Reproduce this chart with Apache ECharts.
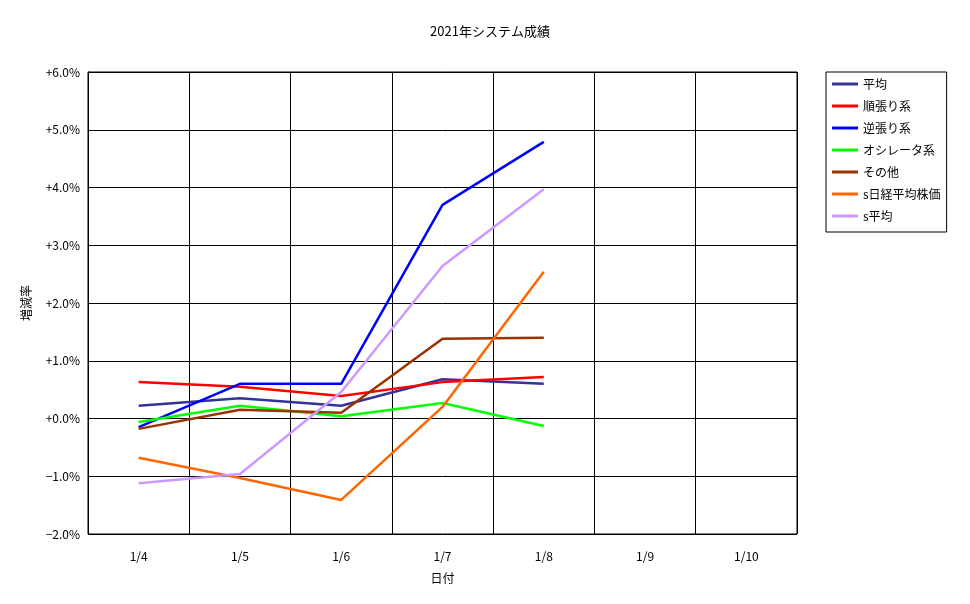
<!DOCTYPE html><html><head><meta charset="utf-8">
<script src="https://cdn.jsdelivr.net/npm/echarts@6/dist/echarts.min.js"></script>
<style>html,body{margin:0;background:#fff}#c{width:970px;height:604px}</style></head><body><div id="c"></div>
<script>
const categories=['1/4','1/5','1/6','1/7','1/8','1/9','1/10'];
const seriesNames=['平均','順張り系','逆張り系','オシレータ系','その他','s日経平均株価','s平均'];
const colors=['#333399','#ff0000','#0000ff','#00ff00','#993300','#ff6600','#cc99ff'];
const heikin=[0.22,0.35,0.22,0.68,0.60];
const junbari=[0.63,0.55,0.39,0.63,0.72];
const gyakubari=[-0.15,0.60,0.60,3.70,4.79];
const oscillator=[-0.06,0.22,0.04,0.27,-0.13];
const sonota=[-0.18,0.15,0.10,1.38,1.40];
const nikkei=[-0.68,-1.03,-1.41,0.20,2.54];
const sheikin=[-1.12,-0.96,0.46,2.64,3.97];
const data=[heikin,junbari,gyakubari,oscillator,sonota,nikkei,sheikin];
const font='"Noto Sans CJK JP", sans-serif';
const ch=echarts.init(document.getElementById('c'));
ch.setOption({
 animation:false,
 title:{text:'2021年システム成績',left:485,top:20,textAlign:'center',textStyle:{fontSize:13,fontWeight:'normal',color:'#000',fontFamily:font}},
 grid:{left:88,top:72,width:709,height:462,show:true,borderColor:'#000',borderWidth:1},
 legend:{orient:'vertical',left:826,top:72,width:134,height:172,padding:[6,6,10,6],itemGap:10,itemWidth:26,itemHeight:3,
  borderColor:'#000',borderWidth:1,borderRadius:0,icon:'rect',textStyle:{fontSize:12,color:'#000',fontFamily:font},data:seriesNames},
 xAxis:{type:'category',data:categories,name:'日付',nameLocation:'middle',nameGap:38,
  nameTextStyle:{fontSize:12,color:'#000',fontFamily:font},
  axisLine:{lineStyle:{color:'#000'}},axisTick:{show:false},
  axisLabel:{color:'#000',fontSize:12,margin:16,fontFamily:font},
  splitLine:{show:true,lineStyle:{color:'#000'}}},
 yAxis:{type:'value',min:-2,max:6,interval:1,name:'増減率',nameLocation:'middle',nameGap:56,
  nameTextStyle:{fontSize:12,color:'#000',fontFamily:font},
  axisLine:{show:true,lineStyle:{color:'#000'}},axisTick:{show:false},
  axisLabel:{color:'#000',fontSize:12,fontFamily:font,formatter:v=>(v>=0?'+':'−')+Math.abs(v).toFixed(1)+'%'},
  splitLine:{lineStyle:{color:'#000'}}},
 series:seriesNames.map((n,i)=>({name:n,type:'line',data:data[i],symbol:'none',color:colors[i],lineStyle:{width:2.5,color:colors[i]}}))
});
</script></body></html>
